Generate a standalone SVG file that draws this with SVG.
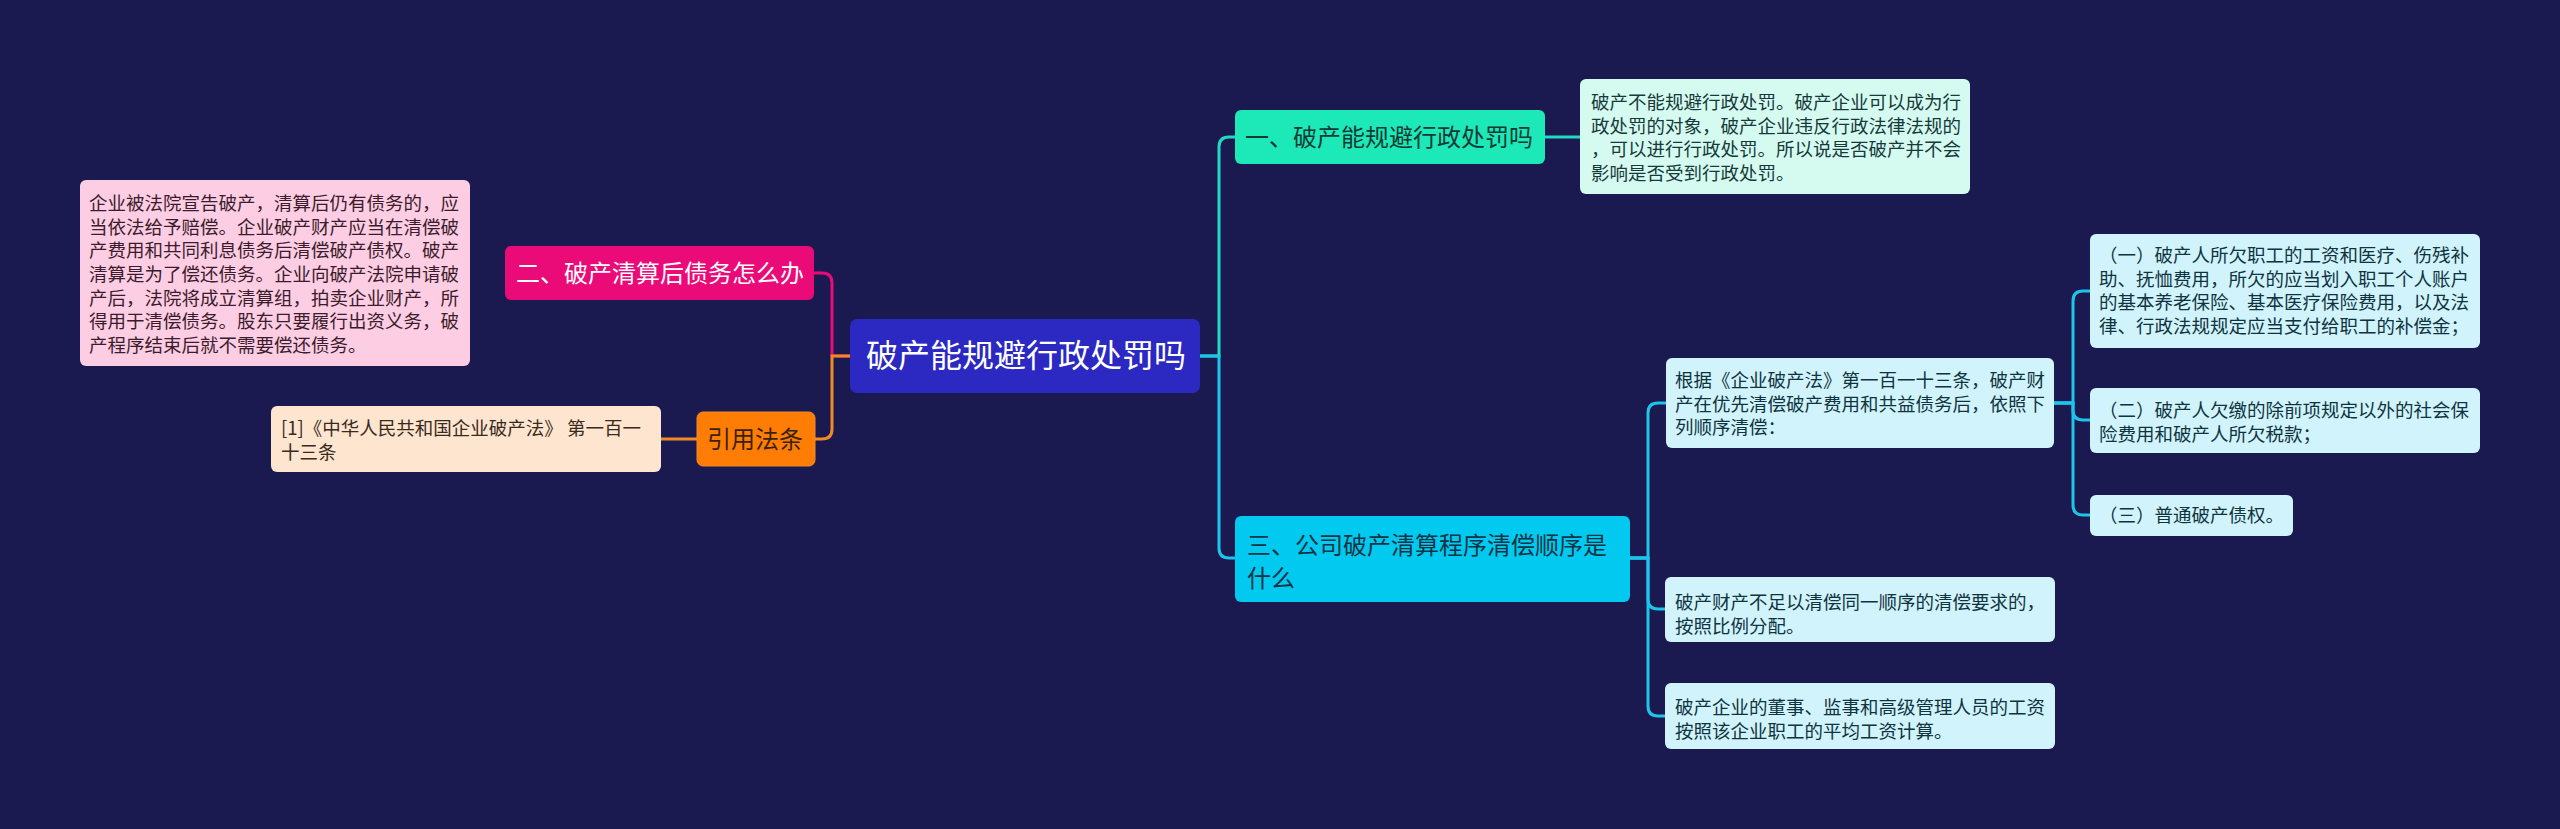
<svg xmlns="http://www.w3.org/2000/svg" width="2560" height="829" viewBox="0 0 2560 829">
<style>
text{font-family:"Noto Sans CJK SC","Noto Sans",sans-serif;}
.note{font-size:18.5px;}
.head{font-size:24px;}
.ln{fill:none;stroke-width:3;}
</style>
<rect x="0" y="0" width="2560" height="829" fill="#1b1a50"/>
<g id="connectors">
<path class="ln" stroke="#ea0a78" d="M850,356 H832 V283 Q832,273 822,273 H814"/>
<path class="ln" stroke="#f08a24" d="M850,356 H832 V429 Q832,439 822,439 H815"/>
<path class="ln" stroke="#f08a24" d="M697,439 H661"/>
<path class="ln" stroke="#22d9c2" d="M1200,356 H1219 V147 Q1219,137 1229,137 H1235"/>
<path class="ln" stroke="#22d9c2" d="M1545,137 H1580"/>
<path class="ln" stroke="#1fc4ea" d="M1200,356 H1219 V548 Q1219,558 1229,558 H1235"/>
<path class="ln" stroke="#1fc4ea" d="M1630,558 H1648 V413 Q1648,403 1658,403 H1666"/>
<path class="ln" stroke="#1fc4ea" d="M1630,558 H1648 V599 Q1648,609 1658,609 H1665"/>
<path class="ln" stroke="#1fc4ea" d="M1630,558 H1648 V706 Q1648,716 1658,716 H1665"/>
<path class="ln" stroke="#1fc4ea" d="M2054,403 H2073 V301 Q2073,291 2083,291 H2090"/>
<path class="ln" stroke="#1fc4ea" d="M2054,403 H2073 V410 Q2073,420 2083,420 H2090"/>
<path class="ln" stroke="#1fc4ea" d="M2054,403 H2073 V505 Q2073,515 2083,515 H2090"/>
</g>
<g id="root">
<rect x="850" y="319" width="350" height="74" rx="7" fill="#2b29c2"/>
<text x="866" y="367" font-size="32" fill="#ffffff">破产能规避行政处罚吗</text>
</g>
<g id="n2">
<rect x="505" y="246" width="309" height="54" rx="6" fill="#ea0a78"/>
<text class="head" x="516" y="282" fill="#ffffff">二、破产清算后债务怎么办</text>
</g>
<g id="n2note">
<rect x="80" y="180" width="390" height="186" rx="6" fill="#fdcde3"/>
<text class="note" fill="#3b1c2c">
<tspan x="89" y="210">企业被法院宣告破产，清算后仍有债务的，应</tspan>
<tspan x="89" y="233.7">当依法给予赔偿。企业破产财产应当在清偿破</tspan>
<tspan x="89" y="257.3">产费用和共同利息债务后清偿破产债权。破产</tspan>
<tspan x="89" y="281">清算是为了偿还债务。企业向破产法院申请破</tspan>
<tspan x="89" y="304.7">产后，法院将成立清算组，拍卖企业财产，所</tspan>
<tspan x="89" y="328.3">得用于清偿债务。股东只要履行出资义务，破</tspan>
<tspan x="89" y="352">产程序结束后就不需要偿还债务。</tspan>
</text>
</g>
<g id="law">
<rect x="697" y="412" width="118" height="54" rx="6" fill="#ff7d05" stroke="#f08a24" stroke-width="1"/>
<text class="head" x="707" y="448" fill="#3a2208">引用法条</text>
</g>
<g id="lawnote">
<rect x="271" y="406" width="390" height="66" rx="6" fill="#fde5cf"/>
<text class="note" fill="#3a2a1c">
<tspan x="281" y="435">[1]《中华人民共和国企业破产法》 第一百一</tspan>
<tspan x="281" y="458.7">十三条</tspan>
</text>
</g>
<g id="n1">
<rect x="1235" y="110" width="310" height="54" rx="6" fill="#1de8b8"/>
<text class="head" x="1245" y="146" fill="#123a34">一、破产能规避行政处罚吗</text>
</g>
<g id="n1note">
<rect x="1580" y="79" width="390" height="115" rx="6" fill="#d5fbf1"/>
<text class="note" fill="#17393a">
<tspan x="1591" y="109">破产不能规避行政处罚。破产企业可以成为行</tspan>
<tspan x="1591" y="132.7">政处罚的对象，破产企业违反行政法律法规的</tspan>
<tspan x="1591" y="156.3">，可以进行行政处罚。所以说是否破产并不会</tspan>
<tspan x="1591" y="180">影响是否受到行政处罚。</tspan>
</text>
</g>
<g id="n3">
<rect x="1235" y="516" width="395" height="86" rx="6" fill="#02c9ef"/>
<text class="head" fill="#0d3445">
<tspan x="1247" y="554">三、公司破产清算程序清偿顺序是</tspan>
<tspan x="1247" y="587">什么</tspan>
</text>
</g>
<g id="n3c1">
<rect x="1666" y="358" width="388" height="90" rx="6" fill="#d1f3fc"/>
<text class="note" fill="#0f3440">
<tspan x="1675" y="387">根据《企业破产法》第一百一十三条，破产财</tspan>
<tspan x="1675" y="410.7">产在优先清偿破产费用和共益债务后，依照下</tspan>
<tspan x="1675" y="434.3">列顺序清偿：</tspan>
</text>
</g>
<g id="n3c2">
<rect x="1665" y="577" width="390" height="65" rx="6" fill="#d1f3fc"/>
<text class="note" fill="#0f3440">
<tspan x="1675" y="609">破产财产不足以清偿同一顺序的清偿要求的，</tspan>
<tspan x="1675" y="632.7">按照比例分配。</tspan>
</text>
</g>
<g id="n3c3">
<rect x="1665" y="683" width="390" height="66" rx="6" fill="#d1f3fc"/>
<text class="note" fill="#0f3440">
<tspan x="1675" y="714">破产企业的董事、监事和高级管理人员的工资</tspan>
<tspan x="1675" y="737.7">按照该企业职工的平均工资计算。</tspan>
</text>
</g>
<g id="s1">
<rect x="2090" y="234" width="390" height="114" rx="6" fill="#d1f3fc"/>
<text class="note" fill="#0f3440">
<tspan x="2099" y="262">（一）破产人所欠职工的工资和医疗、伤残补</tspan>
<tspan x="2099" y="285.7">助、抚恤费用，所欠的应当划入职工个人账户</tspan>
<tspan x="2099" y="309.3">的基本养老保险、基本医疗保险费用，以及法</tspan>
<tspan x="2099" y="333">律、行政法规规定应当支付给职工的补偿金；</tspan>
</text>
</g>
<g id="s2">
<rect x="2090" y="388" width="390" height="65" rx="6" fill="#d1f3fc"/>
<text class="note" fill="#0f3440">
<tspan x="2099" y="417">（二）破产人欠缴的除前项规定以外的社会保</tspan>
<tspan x="2099" y="440.7">险费用和破产人所欠税款；</tspan>
</text>
</g>
<g id="s3">
<rect x="2090" y="495" width="203" height="41" rx="6" fill="#d1f3fc"/>
<text class="note" x="2099" y="522" fill="#0f3440">（三）普通破产债权。</text>
</g>
</svg>
